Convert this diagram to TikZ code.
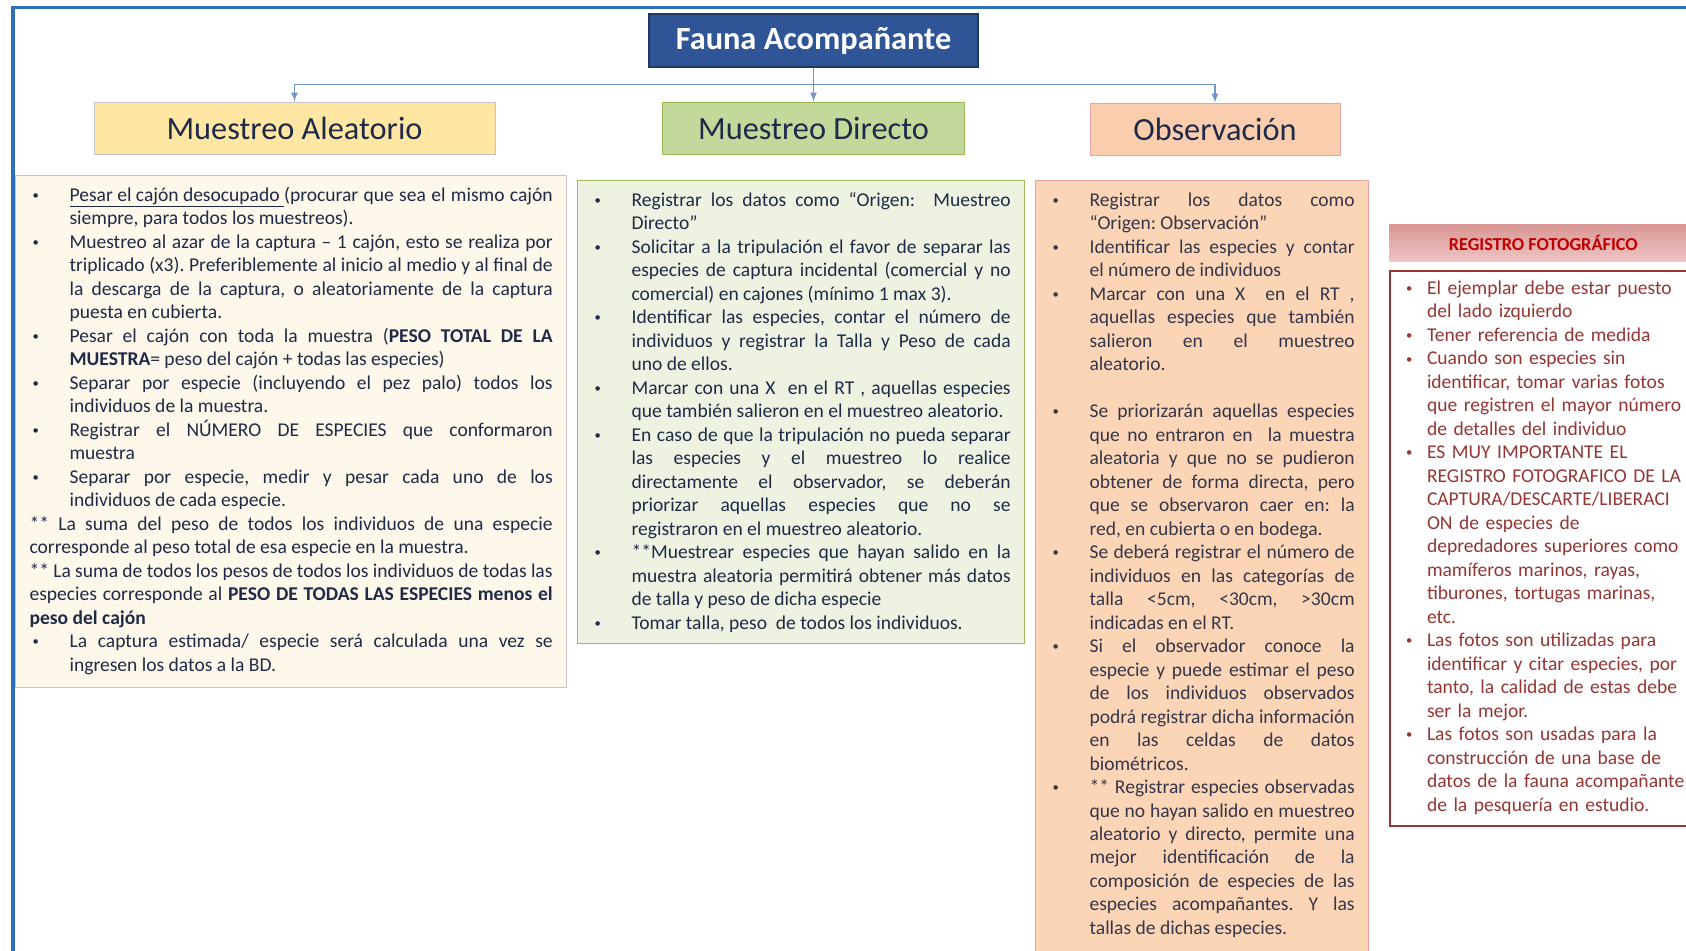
\documentclass[tikz,border=0pt]{standalone}
\usepackage{fontspec}
\setmainfont{Carlito}
\usepackage{enumitem}
\usetikzlibrary{positioning}

\definecolor{framebl}{HTML}{2F6EBA}
\definecolor{titlebl}{HTML}{2F5597}
\definecolor{titleln}{HTML}{1F3864}
\definecolor{connbl}{HTML}{6F95C9}
\definecolor{inkdark}{HTML}{1F2A48}
\definecolor{inkgrey}{HTML}{35364A}
\definecolor{aleafill}{HTML}{FFE7A3}
\definecolor{aleabox}{HTML}{FEF8EA}
\definecolor{aleaedge}{HTML}{C4C4C4}
\definecolor{dirfill}{HTML}{C4D89C}
\definecolor{dirbox}{HTML}{EEF2E1}
\definecolor{diredge}{HTML}{9BBB59}
\definecolor{obsfill}{HTML}{FBCDAF}
\definecolor{obsbox}{HTML}{FBD5B6}
\definecolor{obsedge}{HTML}{E6A3A1}
\definecolor{fotored}{HTML}{C00000}
\definecolor{fotoink}{HTML}{943634}
\definecolor{fototop}{HTML}{D99694}
\definecolor{fotobot}{HTML}{EDC4C3}

\setlength{\parindent}{0pt}
\hyphenpenalty=10000
\exhyphenpenalty=10000
\frenchspacing
\setlist[itemize]{nosep, label={\raisebox{0.2ex}{\small\textbullet}}, align=left,
  leftmargin=1cm, labelwidth=0.825cm, labelsep=0.1cm}
\newcommand{\boxend}[1]{\par\vspace*{#1}}

\begin{document}
\begin{tikzpicture}[x=0.025cm, y=-0.025cm,
  head/.style={draw, line width=0.6pt, minimum height=1.3cm,
    inner sep=0pt, text=inkdark, font=\fontsize{23}{27}\selectfont},
  txtbox/.style={draw, line width=0.8pt, anchor=north west,
    inner xsep=0.35cm, inner ysep=0.06cm, align=justify,
    font=\fontsize{13.9}{16.7}\selectfont},
  conn/.style={->, >=latex, draw=connbl, line width=1.2pt}]

 % Page size and outer frame
 \clip (0,0) rectangle (1686,951);
 \draw[framebl, line width=2.2pt] (13,1000) -- (13,7.5) -- (1720,7.5);

 % Add the title and the three methods
 \node[draw=titleln,
       fill=titlebl,
       line width=0.8pt,
       minimum width=8.225cm,
       minimum height=1.325cm,
       inner sep=0pt,
       text height=0.9cm,
       text depth=0.425cm,
       text=white,
       font=\fontsize{23}{27}\selectfont\bfseries] (fauna) at (813.5,40.5) {Fauna Acompañante};
 \node[head,
       fill=aleafill,
       draw=aleaedge,
       minimum width=10.025cm] (aleat) at (294.5,128) {Muestreo Aleatorio};
 \node[head,
       fill=dirfill,
       draw=diredge,
       minimum width=7.55cm] (directo) at (813.5,128) {Muestreo Directo};
 \node[head,
       fill=obsfill,
       draw=obsedge,
       minimum width=6.25cm] (observ) at (1215,129) {Observación};

 % Connect the title with the methods
 \draw[conn] (fauna.south) -- (directo.north);
 \draw[conn] (fauna.south) -- ++(0,17) -| (aleat.north);
 \draw[conn] (fauna.south) -- ++(0,17) -| (observ.north);

 % Steps of each method
 \node[txtbox,
       fill=aleabox,
       draw=aleaedge,
       text=inkdark,
       text width=13.075cm] (aleattxt) at (15,175) {%
  \begin{itemize}
  \item \underline{Pesar el cajón desocupado\ }(procurar que sea el mismo cajón\linebreak siempre, para todos los muestreos).
  \item Muestreo al azar de la captura – 1 cajón, esto se realiza por\linebreak triplicado (x3). Preferiblemente al inicio al medio y al final de\linebreak la descarga de la captura, o aleatoriamente de la captura\linebreak puesta en cubierta.
  \item Pesar el cajón con toda la muestra (\textbf{PESO TOTAL DE LA\linebreak MUESTRA}= peso del cajón + todas las especies)
  \item Separar por especie (incluyendo el pez palo) todos los\linebreak individuos de la muestra.
  \item Registrar el NÚMERO DE ESPECIES que conformaron\linebreak muestra
  \item Separar por especie, medir y pesar cada uno de los\linebreak individuos de cada especie.
  \end{itemize}
  ** La suma del peso de todos los individuos de una especie\linebreak corresponde al peso total de esa especie en la muestra.\par
  ** La suma de todos los pesos de todos los individuos de todas las\linebreak especies corresponde al \textbf{PESO DE TODAS LAS ESPECIES menos el\linebreak peso del cajón}
  \begin{itemize}
  \item La captura estimada/ especie será calculada una vez se\linebreak ingresen los datos a la BD.
  \end{itemize}\boxend{0.27cm}};

 \node[txtbox,
       fill=dirbox,
       draw=diredge,
       text=inkdark,
       text width=10.475cm] (directotxt) at (577,180) {%
  \begin{itemize}
  \item Registrar los datos como “Origen:~ Muestreo\linebreak Directo”
  \item Solicitar a la tripulación el favor de separar las\linebreak especies de captura incidental (comercial y no\linebreak comercial) en cajones (mínimo 1 max 3).
  \item Identificar las especies, contar el número de\linebreak individuos y registrar la Talla y Peso de cada\linebreak uno de ellos.
  \item Marcar con una X~ en el RT , aquellas especies\linebreak que también salieron en el muestreo aleatorio.
  \item En caso de que la tripulación no pueda separar\linebreak las especies y el muestreo lo realice\linebreak directamente el observador, se deberán\linebreak priorizar aquellas especies que no se\linebreak registraron en el muestreo aleatorio.
  \item **Muestrear especies que hayan salido en la\linebreak muestra aleatoria permitirá obtener más datos\linebreak de talla y peso de dicha especie
  \item Tomar talla, peso~ de todos los individuos.
  \end{itemize}\boxend{0.22cm}};

 \node[txtbox,
       fill=obsbox,
       draw=obsedge,
       text=inkgrey,
       text width=7.625cm] (observtxt) at (1035,180) {%
  \begin{itemize}
  \item Registrar los datos como\linebreak “Origen: Observación”
  \item Identificar las especies y contar\linebreak el número de individuos
  \item Marcar con una X~ en el RT ,\linebreak aquellas especies que también\linebreak salieron en el muestreo\linebreak aleatorio.\par\vspace{16.7pt}
  \item Se priorizarán aquellas especies\linebreak que no entraron en~ la muestra\linebreak aleatoria y que no se pudieron\linebreak obtener de forma directa, pero\linebreak que se observaron caer en: la\linebreak red, en cubierta o en bodega.
  \item Se deberá registrar el número de\linebreak individuos en las categorías de\linebreak talla~ <5cm,~ <30cm,~ >30cm\linebreak indicadas en el RT.
  \item Si el observador conoce la\linebreak especie y puede estimar el peso\linebreak de los individuos observados\linebreak podrá registrar dicha información\linebreak en las celdas de datos\linebreak biométricos.
  \item ** Registrar especies observadas\linebreak que no hayan salido en muestreo\linebreak aleatorio y directo, permite una\linebreak mejor identificación de la\linebreak composición de especies de las\linebreak especies acompañantes. Y las\linebreak tallas de dichas especies.
  \end{itemize}\boxend{1cm}};

 % Photo record
 \node[anchor=north west,
       top color=fototop,
       bottom color=fotobot,
       minimum width=7.7cm,
       minimum height=0.925cm,
       inner sep=0pt,
       text=fotored,
       font=\fontsize{13}{16}\selectfont\bfseries] (fotohead) at (1389,224) {REGISTRO FOTOGRÁFICO};
 \node[txtbox,
       fill=white,
       draw=fotoink,
       line width=1.4pt,
       align=left,
       inner xsep=0.3cm,
       inner ysep=0cm,
       text=fotoink,
       text width=7.2cm] (fototxt) at (1389,270) {%
  \raggedright
  \begin{itemize}[leftmargin=0.625cm, labelwidth=0.325cm, labelsep=0.2cm]
  \item El ejemplar debe estar puesto\newline del lado izquierdo
  \item Tener referencia de medida
  \item Cuando son especies sin\newline identificar, tomar varias fotos\newline que registren el mayor número\newline de detalles del individuo
  \item ES MUY IMPORTANTE EL\newline REGISTRO FOTOGRAFICO DE LA\newline CAPTURA/DESCARTE/LIBERACI\newline ON de especies de\newline depredadores superiores como\newline mamíferos marinos, rayas,\newline tiburones, tortugas marinas,\newline etc.
  \item Las fotos son utilizadas para\newline identificar y citar especies, por\newline tanto, la calidad de estas debe\newline ser la mejor.
  \item Las fotos son usadas para la\newline construcción de una base de\newline datos de la fauna acompañante\newline de la pesquería en estudio.
  \end{itemize}\boxend{0.3cm}};
\end{tikzpicture}
\end{document}
